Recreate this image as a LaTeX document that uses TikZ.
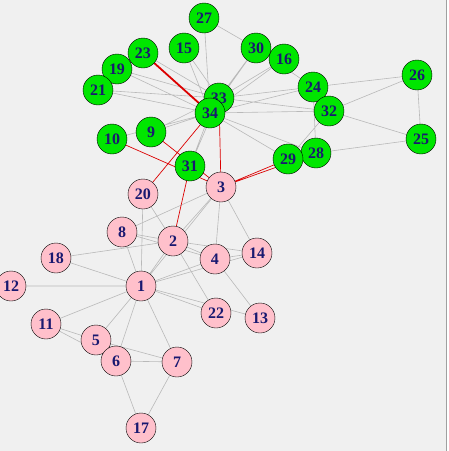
\documentclass[tikz,border=0pt]{standalone}
\usepackage{fontspec}
\setmainfont{Liberation Serif}
\definecolor{bggray}{RGB}{240,240,240}
\definecolor{framegray}{RGB}{160,160,160}
\definecolor{edgegray}{RGB}{185,185,185}
\definecolor{cutred}{RGB}{220,0,0}
\definecolor{vpink}{RGB}{255,192,203}
\definecolor{vgreen}{RGB}{0,230,0}
\definecolor{vtext}{RGB}{25,25,112}
\pgfdeclarelayer{canvas}
\pgfdeclarelayer{edges}
\pgfsetlayers{canvas,edges,main}
\begin{document}
\begin{tikzpicture}[
  x=1pt, y=-1pt,
  vertex/.style={
    draw,
    circle,
    thin,
    inner sep=0pt,
    minimum size=30pt,
    text=vtext,
    font=\fontsize{16}{16}\selectfont\bfseries
  },
  vertex_pink/.style={
    vertex,
    fill=vpink
  },
  vertex_green/.style={
    vertex,
    fill=vgreen
  },
  edge_normal/.style={
    draw,
    line width=0.6pt,
    color=edgegray
  },
  edge_cut/.style={
    draw,
    line width=0.7pt,
    color=cutred
  },
  edge_thick/.style={
    draw,
    line width=1.8pt,
    color=cutred
  }
]%
\useasboundingbox (0,0) rectangle (449,451);
\clip (0,0) rectangle (449,451);

\node [vertex_pink] (v1) at (141,286) {1};
\node [vertex_pink] (v2) at (173,241) {2};
\node [vertex_pink] (v3) at (221,187) {3};
\node [vertex_pink] (v4) at (215,259) {4};
\node [vertex_pink] (v5) at (96,340) {5};
\node [vertex_pink] (v6) at (116,361) {6};
\node [vertex_pink] (v7) at (177,362) {7};
\node [vertex_pink] (v8) at (122,232) {8};
\node [vertex_green] (v9) at (151,132) {9};
\node [vertex_green] (v10) at (112,139) {10};
\node [vertex_pink] (v11) at (46,324) {11};
\node [vertex_pink] (v12) at (11,286) {12};
\node [vertex_pink] (v13) at (260,318) {13};
\node [vertex_pink] (v14) at (257,253) {14};
\node [vertex_green] (v15) at (184,48) {15};
\node [vertex_green] (v16) at (284,59) {16};
\node [vertex_pink] (v17) at (141,428) {17};
\node [vertex_pink] (v18) at (56,258) {18};
\node [vertex_green] (v19) at (117,69) {19};
\node [vertex_pink] (v20) at (143,194) {20};
\node [vertex_green] (v21) at (98,90) {21};
\node [vertex_pink] (v22) at (216,313) {22};
\node [vertex_green] (v23) at (143,53) {23};
\node [vertex_green] (v24) at (313,87) {24};
\node [vertex_green] (v25) at (421,139) {25};
\node [vertex_green] (v26) at (417,75) {26};
\node [vertex_green] (v27) at (204,18) {27};
\node [vertex_green] (v28) at (316,153) {28};
\node [vertex_green] (v29) at (288,159) {29};
\node [vertex_green] (v30) at (256,48) {30};
\node [vertex_green] (v31) at (190,166) {31};
\node [vertex_green] (v32) at (329,111) {32};
\node [vertex_green] (v33) at (219,98) {33};
\node [vertex_green] (v34) at (210,113) {34};

\begin{pgfonlayer}{canvas}
\fill [white] (0,0) rectangle (449,451);
\fill [bggray] (0,0) rectangle (446,451);
\draw [framegray, line width=1.5pt] (446.5,0) -- (446.5,451);
\end{pgfonlayer}

\begin{pgfonlayer}{edges}
\draw [edge_normal] (v1) -- (v2) (v1) -- (v3) (v1) -- (v4) (v1) -- (v5)
  (v1) -- (v6) (v1) -- (v7) (v1) -- (v8) (v1) -- (v11) (v1) -- (v12)
  (v1) -- (v13) (v1) -- (v14) (v1) -- (v18) (v1) -- (v20) (v1) -- (v22);
\draw [edge_normal] (v2) -- (v3) (v2) -- (v4) (v2) -- (v8) (v2) -- (v14)
  (v2) -- (v18) (v2) -- (v20) (v2) -- (v22);
\draw [edge_normal] (v3) -- (v4) (v3) -- (v8) (v3) -- (v14)
  (v4) -- (v8) (v4) -- (v13) (v4) -- (v14);
\draw [edge_normal] (v5) -- (v7) (v5) -- (v11) (v6) -- (v7) (v6) -- (v11)
  (v6) -- (v17) (v7) -- (v17);
\draw [edge_normal] (v9) -- (v33) (v9) -- (v34) (v10) -- (v34)
  (v15) -- (v33) (v15) -- (v34) (v16) -- (v33) (v16) -- (v34)
  (v19) -- (v33) (v19) -- (v34) (v21) -- (v33) (v21) -- (v34)
  (v23) -- (v33);
\draw [edge_normal] (v24) -- (v26) (v24) -- (v28) (v24) -- (v30)
  (v24) -- (v33) (v24) -- (v34) (v25) -- (v26) (v25) -- (v28)
  (v25) -- (v32) (v26) -- (v32) (v27) -- (v30) (v27) -- (v34)
  (v28) -- (v34) (v29) -- (v32) (v29) -- (v34) (v30) -- (v33)
  (v30) -- (v34) (v31) -- (v33) (v31) -- (v34) (v32) -- (v33)
  (v32) -- (v34);
\draw [edge_cut] (v2) -- (v31) (v3) -- (v9) (v3) -- (v10) (v3) -- (v28)
  (v3) -- (v29) (v3) -- (v33) (v20) -- (v34);
\draw [edge_thick] (v23) -- (v34);
\end{pgfonlayer}
\end{tikzpicture}
\end{document}
